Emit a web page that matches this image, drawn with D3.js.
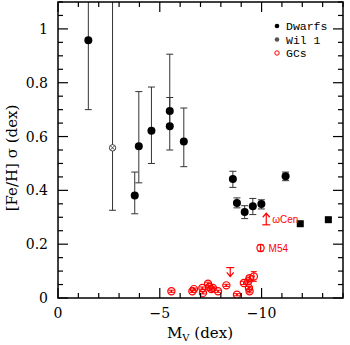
<!DOCTYPE html>
<html><head><meta charset="utf-8">
<script src="https://cdn.jsdelivr.net/npm/d3@7"></script>
<style>body{margin:0;background:#fff}svg{display:block}</style>
</head><body>
<script>
// Dwarf galaxies (filled circles)
const dwarfMv   = [-1.49, -3.77, -3.97, -4.59, -5.49, -5.49, -6.18, -8.59, -8.79, -9.17, -9.57, -9.99, -11.18];
const dwarfSig  = [0.958, 0.381, 0.564, 0.622, 0.695, 0.638, 0.582, 0.442, 0.353, 0.320, 0.341, 0.349, 0.452];
const dwarfLo   = [0.700, 0.313, 0.428, 0.500, 0.645, 0.550, 0.488, 0.411, 0.335, 0.295, 0.310, 0.331, 0.436];
const dwarfHi   = [1.220, 0.468, 0.767, 0.784, 0.745, 0.906, 0.706, 0.471, 0.372, 0.343, 0.370, 0.365, 0.468];
// Bright dwarfs (filled squares)
const sqMv  = [-11.90, -13.28];
const sqSig = [0.276, 0.291];
const sqErr = [0.006, 0.006];
// Willman 1
const wilMv = [-2.68], wilSig = [0.558], wilLo = [0.326], wilHi = [1.20];
// Globular clusters (open red circles)
const gcMv  = [-5.57, -6.60, -6.68, -7.09, -7.12, -7.37, -7.42, -7.53, -7.61, -7.86, -8.27, -8.79, -9.13, -9.35, -9.41, -9.38, -9.41, -9.62, -9.95];
const gcSig = [0.025, 0.025, 0.033, 0.037, 0.019, 0.053, 0.041, 0.033, 0.037, 0.025, 0.047, 0.012, 0.056, 0.062, 0.074, 0.037, 0.025, 0.080, 0.186];
const gcErr = [0.004, 0.004, 0.004, 0.004, 0.004, 0.006, 0.004, 0.004, 0.004, 0.004, 0.004, 0.004, 0.006, 0.006, 0.008, 0.006, 0.006, 0.018, 0.012];
const gcNames = ["", "", "", "", "", "", "", "", "", "", "", "", "", "", "", "", "", "", "M54"];
// limits
const upperLimMv = [-8.46], upperLimSig = [0.113], upperLimTip = [0.080];
const lowerLimMv = [-10.23], lowerLimSig = [0.272], lowerLimTip = [0.315], lowerLimName = ["ωCen"];
// axes
const xMajor = [0, -5, -10];
const xMajorLabels = ["0", "\u22125", "\u221210"];
const yMajor = [0, 0.2, 0.4, 0.6, 0.8, 1];
const yMajorLabels = ["0", "0.2", "0.4", "0.6", "0.8", "1"];
const legendLabels = ["Dwarfs", "Wil 1", "GCs"];

const W = 350, H = 345;
const svg = d3.select("body").append("svg").attr("width", W).attr("height", H);
const x = d3.scaleLinear().domain([0, -14]).range([58, 343]);
const y = d3.scaleLinear().domain([0, 1.1]).range([298, 2]);
const X0 = x.range()[0], X1 = x.range()[1], Y0 = y.range()[0], Y1 = y.range()[1];

svg.append("defs").append("clipPath").attr("id", "clip")
  .append("rect").attr("x", X0).attr("y", Y1).attr("width", X1 - X0).attr("height", Y0 - Y1);
const g = svg.append("g").attr("clip-path", "url(#clip)");

const serif = "'DejaVu Serif', serif";
const mono = "'Liberation Mono', monospace";

// ticks (inward, mirrored)
const xMinor = d3.range(0, -15, -1);
const yMinor = d3.range(0, 1.1001, 0.05).map(v => +v.toFixed(2));
const tk = svg.append("g").attr("stroke", "#000").attr("stroke-width", 1.2);
xMinor.forEach(v => {
  const L = xMajor.includes(v) ? 10 : 5;
  tk.append("line").attr("x1", x(v)).attr("x2", x(v)).attr("y1", Y0).attr("y2", Y0 - L);
  tk.append("line").attr("x1", x(v)).attr("x2", x(v)).attr("y1", Y1).attr("y2", Y1 + L);
});
yMinor.forEach(v => {
  const L = yMajor.some(m => Math.abs(m - v) < 1e-6) ? 10 : 5;
  tk.append("line").attr("y1", y(v)).attr("y2", y(v)).attr("x1", X0).attr("x2", X0 + L);
  tk.append("line").attr("y1", y(v)).attr("y2", y(v)).attr("x1", X1).attr("x2", X1 - L);
});
svg.append("rect").attr("x", X0).attr("y", Y1).attr("width", X1 - X0).attr("height", Y0 - Y1)
  .attr("fill", "none").attr("stroke", "#000").attr("stroke-width", 1.5);

// tick labels
svg.selectAll(".xl").data(xMajor).join("text")
  .attr("x", d => x(d)).attr("y", 318).attr("text-anchor", "middle")
  .attr("font-family", serif).attr("font-size", 14).text((d, i) => xMajorLabels[i]);
svg.selectAll(".yl").data(yMajor).join("text")
  .attr("x", 48).attr("y", d => y(d) + 5).attr("text-anchor", "end")
  .attr("font-family", serif).attr("font-size", 14).text((d, i) => yMajorLabels[i]);

// axis titles
const xt = svg.append("text").attr("x", 200).attr("y", 338).attr("text-anchor", "middle")
  .attr("font-family", serif).attr("font-size", 15);
xt.append("tspan").text("M");
xt.append("tspan").attr("font-size", 10).attr("dy", 3).text("V");
xt.append("tspan").attr("dy", -3).text(" (dex)");
svg.append("text").attr("transform", "translate(17,158) rotate(-90)").attr("text-anchor", "middle")
  .attr("font-family", serif).attr("font-size", 15).text("[Fe/H] \u03c3 (dex)");

// error bar helper
function errbar(gr, xv, lo, hi, color, cap, sw) {
  gr.append("line").attr("x1", x(xv)).attr("x2", x(xv)).attr("y1", y(lo)).attr("y2", y(hi))
    .attr("stroke", color).attr("stroke-width", sw);
  [lo, hi].forEach(v => gr.append("line").attr("x1", x(xv) - cap).attr("x2", x(xv) + cap)
    .attr("y1", y(v)).attr("y2", y(v)).attr("stroke", color).attr("stroke-width", sw));
}

// Dwarfs
dwarfMv.forEach((m, i) => errbar(g, m, dwarfLo[i], dwarfHi[i], "#333", 3.5, 1));
wilMv.forEach((m, i) => errbar(g, m, wilLo[i], wilHi[i], "#333", 3.5, 1));
sqMv.forEach((m, i) => errbar(g, m, sqSig[i] - sqErr[i], sqSig[i] + sqErr[i], "#000", 3, 1));
g.selectAll(".dw").data(dwarfMv).join("circle")
  .attr("cx", d => x(d)).attr("cy", (d, i) => y(dwarfSig[i])).attr("r", 4).attr("fill", "#000");
g.selectAll(".sq").data(sqMv).join("rect")
  .attr("x", d => x(d) - 3.5).attr("y", (d, i) => y(sqSig[i]) - 3.5)
  .attr("width", 7).attr("height", 7).attr("fill", "#000");
wilMv.forEach((m, i) => {
  const cx = x(m), cy = y(wilSig[i]);
  g.append("circle").attr("cx", cx).attr("cy", cy).attr("r", 3.2).attr("fill", "#fff").attr("stroke", "#444").attr("stroke-width", 1);
  g.append("path").attr("d", `M${cx-2},${cy-2}L${cx+2},${cy+2}M${cx-2},${cy+2}L${cx+2},${cy-2}`)
    .attr("stroke", "#444").attr("stroke-width", 0.9);
});

// GCs
const red = "#ff0000";
gcMv.forEach((m, i) => errbar(g, m, gcSig[i] - gcErr[i], gcSig[i] + gcErr[i], red, 3, 1));
gcMv.forEach((m, i) => {
  g.append("circle").attr("cx", x(m)).attr("cy", y(gcSig[i])).attr("r", 3.6)
    .attr("fill", "none").attr("stroke", red).attr("stroke-width", 1.2);
  g.append("circle").attr("cx", x(m)).attr("cy", y(gcSig[i])).attr("r", 1).attr("fill", red);
  if (gcNames[i]) svg.append("text").attr("x", x(m) + 8).attr("y", y(gcSig[i]) + 4)
    .attr("font-family", "'Liberation Sans', Arial, sans-serif").attr("font-size", 10).attr("fill", red).text(gcNames[i]);
});
// upper limit (arrow down)
upperLimMv.forEach((m, i) => {
  const cx = x(m), y0 = y(upperLimSig[i]), y1 = y(upperLimTip[i]);
  g.append("line").attr("x1", cx - 4).attr("x2", cx + 4).attr("y1", y0).attr("y2", y0).attr("stroke", red).attr("stroke-width", 1.2);
  g.append("line").attr("x1", cx).attr("x2", cx).attr("y1", y0).attr("y2", y1).attr("stroke", red).attr("stroke-width", 1.2);
  g.append("path").attr("d", `M${cx-3.5},${y1-4}L${cx},${y1}L${cx+3.5},${y1-4}`).attr("fill", "none").attr("stroke", red).attr("stroke-width", 1.2);
});
// lower limit (arrow up)
lowerLimMv.forEach((m, i) => {
  const cx = x(m), y0 = y(lowerLimSig[i]), y1 = y(lowerLimTip[i]);
  g.append("line").attr("x1", cx - 4).attr("x2", cx + 4).attr("y1", y0).attr("y2", y0).attr("stroke", red).attr("stroke-width", 1.2);
  g.append("line").attr("x1", cx).attr("x2", cx).attr("y1", y0).attr("y2", y1).attr("stroke", red).attr("stroke-width", 1.2);
  g.append("path").attr("d", `M${cx-3.5},${y1+4}L${cx},${y1}L${cx+3.5},${y1+4}`).attr("fill", "none").attr("stroke", red).attr("stroke-width", 1.2);
  svg.append("text").attr("x", cx + 6).attr("y", y0 - 2)
    .attr("font-family", "'Liberation Sans', Arial, sans-serif").attr("font-size", 10).attr("fill", red).text(lowerLimName[i]);
});

// legend
const lg = svg.append("g");
const ly = [26, 39.5, 53];
lg.append("circle").attr("cx", 277).attr("cy", ly[0]).attr("r", 2.3).attr("fill", "#000");
lg.append("circle").attr("cx", 277).attr("cy", ly[1]).attr("r", 2.3).attr("fill", "#555");
lg.append("circle").attr("cx", 277).attr("cy", ly[2]).attr("r", 2.2).attr("fill", "none").attr("stroke", red).attr("stroke-width", 1);
lg.selectAll("text").data(legendLabels).join("text")
  .attr("x", 286).attr("y", (d, i) => ly[i] + 4)
  .attr("font-family", mono).attr("font-size", 11.5).attr("fill", "#000").text(d => d);
</script>
</body></html>
